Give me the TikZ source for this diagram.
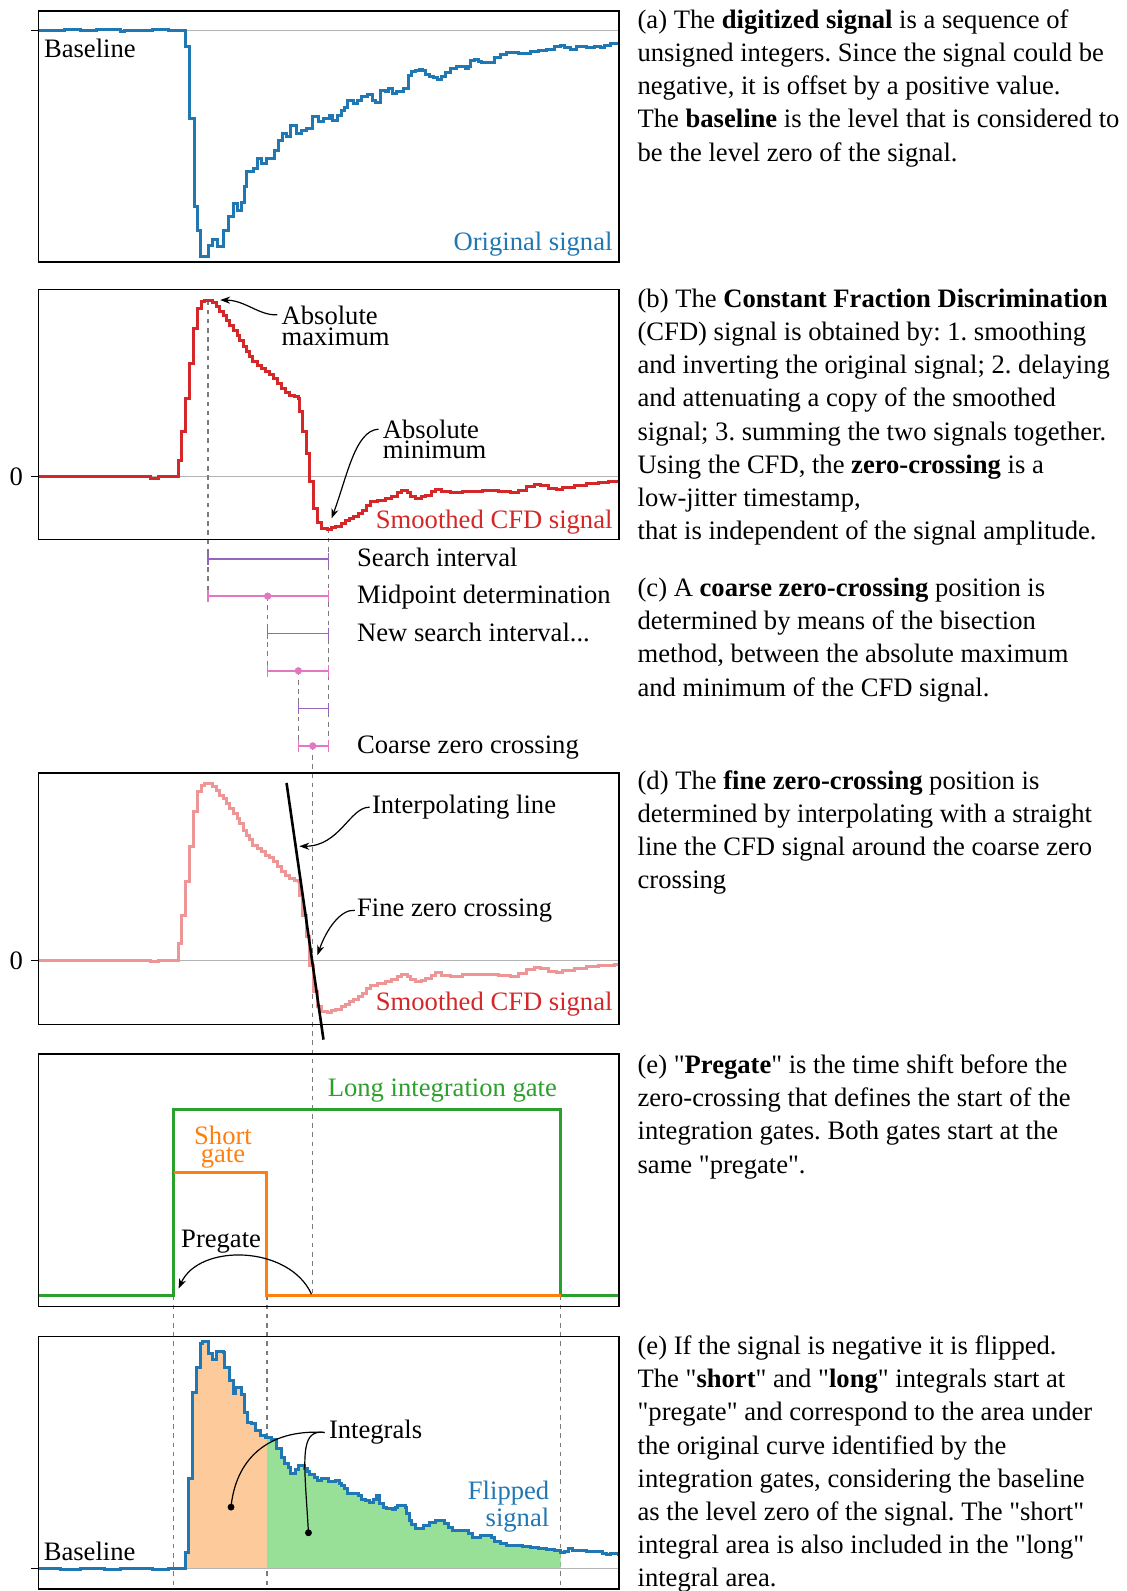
\documentclass[tikz,border=0pt]{standalone}
\usepackage{fontspec}
\setmainfont{Liberation Serif}
\usetikzlibrary{arrows.meta}
\definecolor{tblue}{HTML}{1F77B4}
\definecolor{tred}{HTML}{D62728}
\definecolor{lred}{HTML}{EE9696}
\definecolor{tgreen}{HTML}{2CA02C}
\definecolor{torange}{HTML}{FF7F0E}
\definecolor{tpurple}{HTML}{9467BD}
\definecolor{tpink}{HTML}{E377C2}
\definecolor{zgray}{HTML}{B4B4B4}
\definecolor{dgray}{HTML}{7A7A7A}
\definecolor{ofill}{HTML}{FDCA9B}
\definecolor{gfill}{HTML}{98E098}
\newcommand\dq{\XeTeXglyph\XeTeXglyphindex "quotedbl"\relax}
\newcommand\ivlbar[4]{%
  \draw[line width=0.8pt, #1] (#2,#4) -- (#3,#4);
  \draw[line width=0.8pt, #1] (#2,#4-5.8) -- (#2,#4+5.8);
  \draw[line width=0.8pt, #1] (#3,#4-5.8) -- (#3,#4+5.8);}
\tikzset{
  frame/.style={draw=black, line width=0.8pt},
  zline/.style={draw=zgray, line width=0.6pt},
  tickmark/.style={draw=black, line width=0.6pt},
  dline/.style={draw=dgray, line width=0.65pt, dash pattern=on 2.3pt off 2.3pt},
  sig/.style={line width=1.5pt, line join=miter},
  gate/.style={line width=1.5pt, line join=miter},
  ann/.style={-{Stealth[length=5pt,width=3.6pt]}, line width=0.6pt, black},
  lbl/.style={font=\fontsize{13.3pt}{16.6pt}\selectfont\frenchspacing, inner sep=0pt},
  para/.style={lbl, anchor=base west},
}
% CFD signal in zoom coordinates
\def\cfdpath{(96,590) -| (375,595) -| (395,590) -| (445,540) -| (452,455) -| (462,355) -| (472,250) -| (482,145) -| (492,85) -| (502,65) -| (510,60) -| (528,68) -| (538,80) -| (546,95) -| (555,105) -| (563,120) -| (572,135) -| (580,150) -| (590,165) -| (597,180) -| (605,200) -| (613,215) -| (620,228) -| (628,245) -| (640,255) -| (650,265) -| (660,275) -| (670,283) -| (680,295) -| (690,310) -| (700,325) -| (710,337) -| (720,345) -| (733,350) -| (742,355) -| (746,395) -| (752,455) -| (762,520) -| (770,605) -| (780,685) -| (790,728) -| (800,745) -| (815,748) -| (825,742) -| (835,738) -| (850,730) -| (860,722) -| (870,715) -| (880,708) -| (892,700) -| (902,690) -| (912,675) -| (922,665) -| (940,660) -| (960,655) -| (975,648) -| (990,638) -| (1000,632) -| (1015,638) -| (1022,648) -| (1035,655) -| (1048,650) -| (1060,645) -| (1075,635) -| (1085,628) -| (1100,635) -| (1120,638) -| (1150,633) -| (1200,632) -| (1240,635) -| (1270,638) -| (1290,630) -| (1310,618) -| (1330,612) -| (1345,615) -| (1365,625) -| (1385,628) -| (1400,622) -| (1430,615) -| (1460,610) -| (1490,606) -| (1515,605) -| (1530,603) -| (1540,600)}
% original signal
\def\origpath{(96,90) -| (130,92) -| (160,89) -| (200,91) -| (240,89) -| (300,93) -| (310,90) -| (350,92) -| (380,88) -| (420,91) -| (462,140) -| (472,355) -| (484,620) -| (492,690) -| (500,770) -| (520,735) -| (530,718) -| (542,740) -| (557,690) -| (569,650) -| (580,610) -| (592,630) -| (600,608) -| (608,560) -| (614,515) -| (630,505) -| (640,475) -| (652,490) -| (662,475) -| (684,450) -| (692,420) -| (702,400) -| (714,410) -| (722,375) -| (737,400) -| (750,392) -| (762,385) -| (777,350) -| (792,365) -| (805,355) -| (820,345) -| (828,360) -| (840,345) -| (850,330) -| (858,322) -| (865,300) -| (880,310) -| (890,300) -| (900,290) -| (915,283) -| (927,300) -| (935,308) -| (948,270) -| (960,275) -| (968,265) -| (978,280) -| (988,275) -| (1005,265) -| (1017,225) -| (1025,215) -| (1035,210) -| (1045,207) -| (1052,212) -| (1058,222) -| (1070,228) -| (1080,232) -| (1090,237) -| (1100,230) -| (1108,218) -| (1120,205) -| (1135,200) -| (1158,205) -| (1165,198) -| (1172,182) -| (1182,178) -| (1190,183) -| (1198,188) -| (1222,186) -| (1230,172) -| (1245,162) -| (1260,157) -| (1290,160) -| (1320,155) -| (1340,152) -| (1360,147) -| (1380,140) -| (1395,137) -| (1405,142) -| (1420,147) -| (1435,140) -| (1460,142) -| (1480,140) -| (1495,143) -| (1505,135) -| (1520,130) -| (1540,127)}
% flipped signal
\def\flippath{(96,805) -| (150,807) -| (180,808) -| (200,805) -| (260,806) -| (300,803) -| (340,805) -| (380,807) -| (420,804) -| (462,755) -| (470,535) -| (480,275) -| (490,200) -| (500,130) -| (505,122) -| (520,160) -| (530,178) -| (540,152) -| (555,155) -| (558,200) -| (570,240) -| (580,280) -| (587,262) -| (600,282) -| (608,335) -| (617,365) -| (627,370) -| (637,390) -| (648,405) -| (660,410) -| (675,418) -| (688,445) -| (700,470) -| (707,490) -| (717,500) -| (724,520) -| (735,508) -| (742,495) -| (758,505) -| (765,512) -| (770,522) -| (782,532) -| (790,540) -| (800,535) -| (818,543) -| (835,540) -| (845,548) -| (850,555) -| (858,565) -| (865,580) -| (885,578) -| (892,585) -| (900,596) -| (910,600) -| (920,605) -| (930,596) -| (938,585) -| (945,610) -| (955,620) -| (962,625) -| (978,628) -| (985,622) -| (990,615) -| (1008,620) -| (1012,640) -| (1018,660) -| (1025,672) -| (1035,685) -| (1055,675) -| (1070,665) -| (1085,660) -| (1105,670) -| (1115,680) -| (1125,690) -| (1165,700) -| (1175,712) -| (1195,706) -| (1222,712) -| (1230,722) -| (1245,730) -| (1260,735) -| (1300,738) -| (1320,740) -| (1340,743) -| (1360,748) -| (1380,750) -| (1395,755) -| (1405,752) -| (1415,745) -| (1425,750) -| (1460,752) -| (1490,752) -| (1500,758) -| (1510,762) -| (1520,760) -| (1540,768)}
\begin{document}
\begin{tikzpicture}[x=0.507207pt, y=-0.507207pt]
\useasboundingbox (0,0) rectangle (1110,1568);
\fill[white] (0,0) rectangle (1110,1568);

% ---------------- panel a
\draw[zline] (38,29.7) -- (610,29.7);
\draw[tickmark] (31,29.7) -- (38,29.7);
\begin{scope}[x=0.200854pt, y=-0.166667pt]
  \draw[sig, tblue] \origpath;
\end{scope}
\draw[frame] (38,11) rectangle (610,258);
\node[para] (blA) at (43,57) {Baseline};
\node[lbl, anchor=base east, text=tblue] (osig) at (604,246.5) {Original signal};

% ---------------- panel b
\draw[zline] (38,469.9) -- (610,469.9);
\draw[tickmark] (31,469.9) -- (38,469.9);
\node[lbl] (zeroB) at (16,469.9) {0};
\coordinate (pmax) at (205.1,296);
\coordinate (pmin) at (323.9,521);
\coordinate (mA) at (205.1,587.5);
\coordinate (mB) at (323.9,735.1);
\draw[dline] (pmax) -- (mA);
\draw[dline] (pmin) -- (mB);
\begin{scope}[shift={(0,276.03)}, x=0.200854pt, y=-0.166667pt]
  \draw[sig, tred] \cfdpath;
\end{scope}
\draw[frame] (38,285.2) rectangle (610,531.7);
\node[lbl, anchor=base east, text=tred] (cfdB) at (604,521) {Smoothed CFD signal};
\node[para, text depth=0pt] (amax) at (277.2,319.4) {Absolute};
\node[para, text height=5pt] (amax2) at (277.2,340.1) {maximum};
\node[para, text depth=0pt] (amin) at (377,432.1) {Absolute};
\node[para, text height=5pt] (amin2) at (377,451.8) {minimum};
\coordinate (tmax) at (217,295.7);
\coordinate (tmin) at (326.7,511);
\draw[ann] ([xshift=-2pt]amax.west) .. controls (255,311) and (242,296) .. (tmax);
\draw[ann] ([xshift=-2pt]amin.west) .. controls (350,424) and (342,470) .. (tmin);

% ---------------- bisection
\coordinate (m1top) at (263.8,587.5);
\coordinate (m1bot) at (263.8,661.1);
\coordinate (m2top) at (294,661.1);
\coordinate (m2bot) at (294,735.1);
\coordinate (m3top) at (308.2,735.1);
\coordinate (m3bot) at (308.2,1276.6);
\draw[dline] (m1top) -- (m1bot);
\draw[dline] (m2top) -- (m2bot);
\draw[dline] (m3top) -- (m3bot);
\ivlbar{tpurple}{205.1}{323.9}{551}
\ivlbar{tpink}{205.1}{323.9}{587.5}
\fill[tpink] (263.8,587.5) circle (3.6);
\ivlbar{tpurple}{263.8}{323.9}{624.3}
\ivlbar{tpink}{263.8}{323.9}{661.1}
\fill[tpink] (294,661.1) circle (3.6);
\ivlbar{tpurple}{294}{323.9}{698.3}
\ivlbar{tpink}{294}{323.9}{735.1}
\fill[tpink] (308.2,735.1) circle (3.6);
\node[para] (srch) at (351.6,558.6) {Search interval};
\node[para] (midp) at (351.6,594.7) {Midpoint determination};
\node[para] (nsrch) at (351.6,631.9) {New search interval...};
\node[para] (coarse) at (351.6,742.6) {Coarse zero crossing};

% ---------------- panel d
\draw[zline] (38,946.4) -- (610,946.4);
\draw[tickmark] (31,946.4) -- (38,946.4);
\node[lbl] (zeroD) at (16,946.4) {0};
\begin{scope}[shift={(0,752.53)}, x=0.200854pt, y=-0.166667pt]
  \draw[sig, lred] \cfdpath;
\end{scope}
\coordinate (ilA) at (282.4,771.6);
\coordinate (ilB) at (318.8,1024.6);
\draw[line width=1.3pt, black] (ilA) -- (ilB);
\draw[frame] (38,761.7) rectangle (610,1009.5);
\node[lbl, anchor=base east, text=tred] (cfdD) at (604,996.3) {Smoothed CFD signal};
\node[para] (interp) at (366.3,801.8) {Interpolating line};
\node[para] (fine) at (351.6,903) {Fine zero crossing};
\coordinate (tint) at (295,834);
\coordinate (tfine) at (312.8,941.4);
\draw[ann] ([xshift=-1pt]interp.west) .. controls (345,795) and (335,834) .. (tint);
\draw[ann] ([xshift=-1pt]fine.west) .. controls (336,896) and (322,915) .. (tfine);

% ---------------- panel e
\coordinate (gL) at (171.1,1276.6);
\coordinate (gS) at (263,1276.6);
\coordinate (gE) at (552.4,1276.6);
\draw[dline] (gL) -- (171.1,1566);
\draw[dline] (gS) -- (263,1566);
\draw[dline] (gE) -- (552.4,1566);
\draw[gate, tgreen] (38,1276.6) -- (171.1,1276.6) -- (171.1,1093) -- (552.4,1093) -- (552.4,1276.6) -- (610,1276.6);
\draw[gate, torange] (171.1,1156) -- (263,1156) -- (263,1276.6) -- (552.4,1276.6);
\draw[frame] (38,1039) rectangle (610,1287.5);
\node[lbl, anchor=base west, text=tgreen] (longg) at (322.7,1081.1) {Long integration gate};
\node[lbl, anchor=base, text=torange, text depth=0pt] (shortg) at (219.8,1128.1) {Short};
\node[lbl, anchor=base, text=torange, text height=5pt] (shortg2) at (219.8,1145.5) {gate};
\node[para] (preg) at (178.2,1229.2) {Pregate};
\coordinate (pgS) at (307,1275.5);
\coordinate (pgE) at (176,1270);
\draw[ann] (pgS) .. controls (285,1227) and (196,1225) .. (pgE);

% ---------------- panel f
\begin{scope}[shift={(0,1281.6)}, x=0.200854pt, y=-0.166667pt]
  \begin{scope}
    \clip (433,0) rectangle (664,900);
    \fill[ofill] \flippath -- (1540,805) -- (96,805) -- cycle;
  \end{scope}
  \begin{scope}
    \clip (664,0) rectangle (1395,900);
    \fill[gfill] \flippath -- (1540,805) -- (96,805) -- cycle;
  \end{scope}
\end{scope}
\draw[zline] (38,1546.1) -- (610,1546.1);
\draw[tickmark] (31,1546.1) -- (38,1546.1);
\begin{scope}[shift={(0,1281.6)}, x=0.200854pt, y=-0.166667pt]
  \draw[sig, tblue] \flippath;
\end{scope}
\draw[frame] (38,1317) rectangle (610,1566);
\node[para] (blF) at (42.8,1537.9) {Baseline};
\node[lbl, anchor=base east, text=tblue] (flip1) at (541.7,1478.1) {Flipped};
\node[lbl, anchor=base east, text=tblue] (flip2) at (541.7,1504.4) {signal};
\node[para] (intg) at (323.9,1418) {Integrals};
\coordinate (d1) at (227.7,1485.3);
\coordinate (d2) at (304,1510.6);
\fill (d1) circle (3.4);
\fill (d2) circle (3.4);
\draw[line width=0.6pt] ([xshift=-2pt]intg.west) .. controls (262,1408) and (232,1440) .. (d1);
\draw[line width=0.6pt] ([xshift=-2pt]intg.west) .. controls (294,1408) and (300,1440) .. (d2);

% ---------------- right column texts
\node[para] (ta1) at (628,28) {(a) The \textbf{digitized signal} is a sequence of};
\node[para] (ta2) at (628,60.7) {unsigned integers. Since the signal could be};
\node[para] (ta3) at (628,93.4) {negative, it is offset by a positive value.};
\node[para] (ta4) at (628,126.1) {The \textbf{baseline} is the level that is considered to};
\node[para] (ta5) at (628,158.8) {be the level zero of the signal.};

\node[para] (tb1) at (628,303) {(b) The \textbf{Constant Fraction Discrimination}};
\node[para] (tb2) at (628,335.7) {(CFD) signal is obtained by: 1. smoothing};
\node[para] (tb3) at (628,368.4) {and inverting the original signal; 2. delaying};
\node[para] (tb4) at (628,401.1) {and attenuating a copy of the smoothed};
\node[para] (tb5) at (628,433.8) {signal; 3. summing the two signals together.};
\node[para] (tb6) at (628,466.5) {Using the CFD, the \textbf{zero-crossing} is a};
\node[para] (tb7) at (628,499.2) {low-jitter timestamp,};
\node[para] (tb8) at (628,531.9) {that is independent of the signal amplitude.};

\node[para] (tc1) at (628,588) {(c) A \textbf{coarse zero-crossing} position is};
\node[para] (tc2) at (628,620.7) {determined by means of the bisection};
\node[para] (tc3) at (628,653.4) {method, between the absolute maximum};
\node[para] (tc4) at (628,686.1) {and minimum of the CFD signal.};

\node[para] (td1) at (628,778) {(d) The \textbf{fine zero-crossing} position is};
\node[para] (td2) at (628,810.7) {determined by interpolating with a straight};
\node[para] (td3) at (628,843.4) {line the CFD signal around the coarse zero};
\node[para] (td4) at (628,876.1) {crossing};

\node[para] (te1) at (628,1058) {(e) \dq\textbf{Pregate}\dq{} is the time shift before the};
\node[para] (te2) at (628,1090.7) {zero-crossing that defines the start of the};
\node[para] (te3) at (628,1123.4) {integration gates. Both gates start at the};
\node[para] (te4) at (628,1156.1) {same \dq pregate\dq.};

\node[para] (tf1) at (628,1335) {(e) If the signal is negative it is flipped.};
\node[para] (tf2) at (628,1367.7) {The \dq\textbf{short}\dq{} and \dq\textbf{long}\dq{} integrals start at};
\node[para] (tf3) at (628,1400.4) {\dq pregate\dq{} and correspond to the area under};
\node[para] (tf4) at (628,1433.1) {the original curve identified by the};
\node[para] (tf5) at (628,1465.8) {integration gates, considering the baseline};
\node[para] (tf6) at (628,1498.5) {as the level zero of the signal. The \dq short\dq};
\node[para] (tf7) at (628,1531.2) {integral area is also included in the \dq long\dq};
\node[para] (tf8) at (628,1563.9) {integral area.};
\end{tikzpicture}
\end{document}
